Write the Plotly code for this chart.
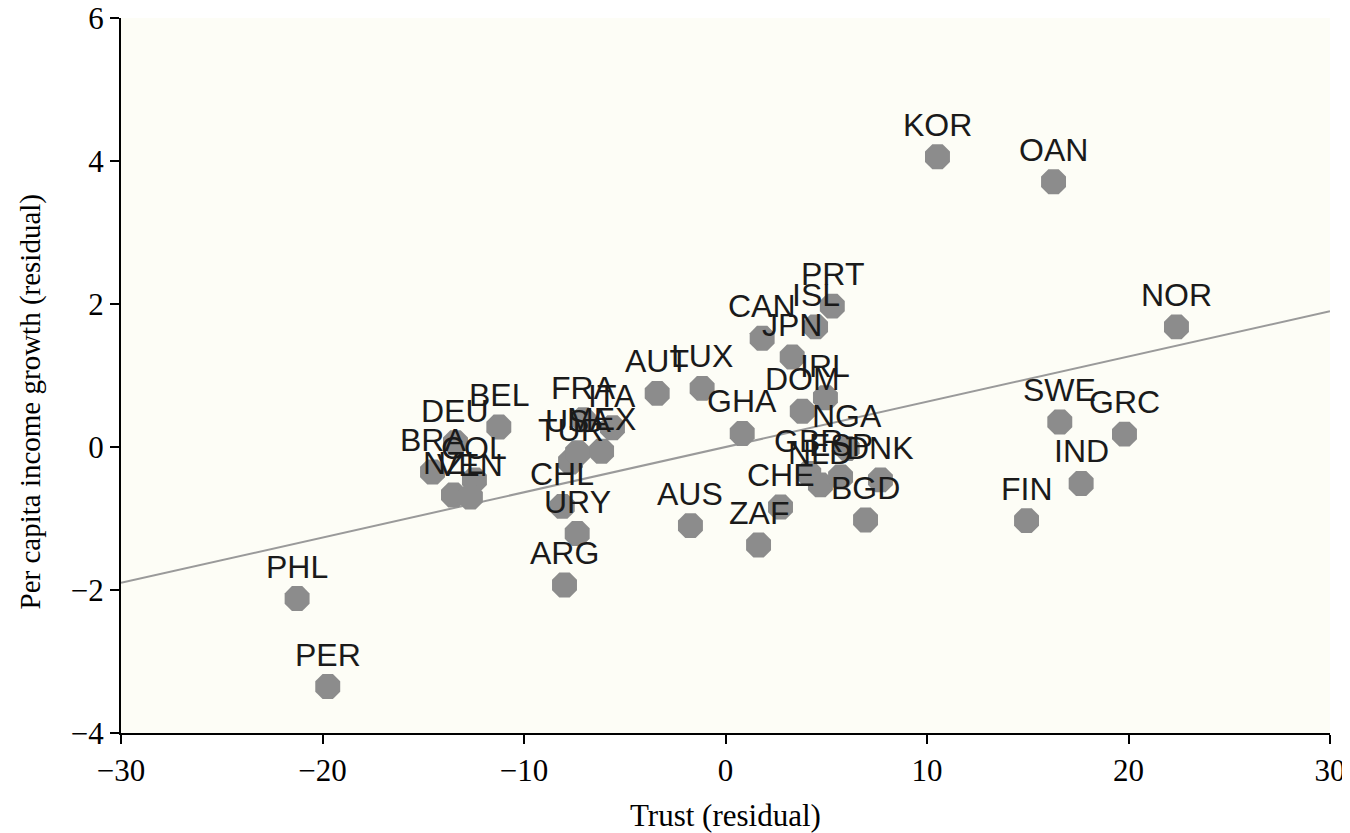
import plotly.graph_objects as go

countries = ["KOR", "OAN", "NOR", "SWE", "GRC", "IND", "FIN", "PHL", "PER", "ARG",
             "URY", "CHL", "TUR", "USA", "MEX", "FRA", "ITA", "AUT", "LUX", "BEL",
             "DEU", "BRA", "COL", "NZL", "VEN", "GHA", "CAN", "JPN", "ISL", "PRT",
             "DOM", "IRL", "NGA", "GBR", "NLD", "ESP", "DNK", "BGD", "CHE", "ZAF", "AUS"]
trust = [10.52, 16.28, 22.38, 16.59, 19.80, 17.65, 14.94, -21.26, -19.74, -7.99,
         -7.36, -8.10, -7.69, -7.34, -6.15, -7.05, -5.61, -3.39, -1.16, -11.25,
         -13.40, -14.54, -12.46, -13.50, -12.66, 0.83, 1.82, 3.31, 4.47, 5.30,
         3.81, 4.96, 6.04, 4.13, 4.71, 5.71, 7.69, 6.95, 2.73, 1.64, -1.74]
growth = [4.06, 3.71, 1.68, 0.35, 0.18, -0.51, -1.03, -2.12, -3.35, -1.93,
          -1.21, -0.83, -0.21, -0.08, -0.06, 0.38, 0.27, 0.75, 0.82, 0.28,
          0.06, -0.35, -0.46, -0.67, -0.70, 0.19, 1.52, 1.26, 1.68, 1.97,
          0.50, 0.69, -0.02, -0.37, -0.53, -0.42, -0.46, -1.02, -0.84, -1.37, -1.10]

fit_x = [-30, 30]
fit_intercept = 0.0
fit_slope = 0.0633
fit_y = [fit_intercept + fit_slope * v for v in fit_x]

x_ticks = [-30, -20, -10, 0, 10, 20, 30]
y_ticks = [-4, -2, 0, 2, 4, 6]
x_title = "Trust (residual)"
y_title = "Per capita income growth (residual)"

serif = "Liberation Serif, Times New Roman"

fig = go.Figure()
fig.add_trace(go.Scatter(x=fit_x, y=fit_y, mode="lines",
                         line=dict(color="#9a9a9a", width=2), hoverinfo="skip"))
fig.add_trace(go.Scatter(x=trust, y=growth, mode="markers",
                         marker=dict(symbol="octagon", size=27, color="#8c8c8c",
                                     line=dict(width=0)),
                         text=countries))

for c, xv, yv in zip(countries, trust, growth):
    fig.add_annotation(x=xv, y=yv, text=c, showarrow=False, xanchor="center",
                       yanchor="middle", yshift=32,
                       font=dict(family="Liberation Sans, Arial", size=32, color="#1a1a1a"))

fig.add_annotation(xref="paper", yref="paper", x=0.5, y=0, text=x_title,
                   showarrow=False, xanchor="center", yanchor="middle", yshift=-82,
                   font=dict(family=serif, size=31, color="black"))
fig.add_annotation(xref="paper", yref="paper", x=0, y=0.5, text=y_title,
                   showarrow=False, xanchor="center", yanchor="middle",
                   xshift=-91, yshift=-26, textangle=-90,
                   font=dict(family=serif, size=29, color="black"))

axis_common = dict(showline=True, linecolor="black", linewidth=2, ticks="outside",
                   ticklen=9, tickwidth=2, tickcolor="black", showgrid=False,
                   zeroline=False, mirror=False, automargin=False,
                   ticklabeloverflow="allow",
                   tickfont=dict(family=serif, size=31, color="black"))

fig.update_xaxes(range=[-30, 30], tickvals=x_ticks, **axis_common)
fig.update_yaxes(range=[-4, 6], tickvals=y_ticks, **axis_common)

fig.update_layout(width=1342, height=825, showlegend=False,
                  plot_bgcolor="#fdfdf6", paper_bgcolor="white",
                  margin=dict(l=113, r=20, t=10, b=100, autoexpand=False))

fig.write_html("out.html")
